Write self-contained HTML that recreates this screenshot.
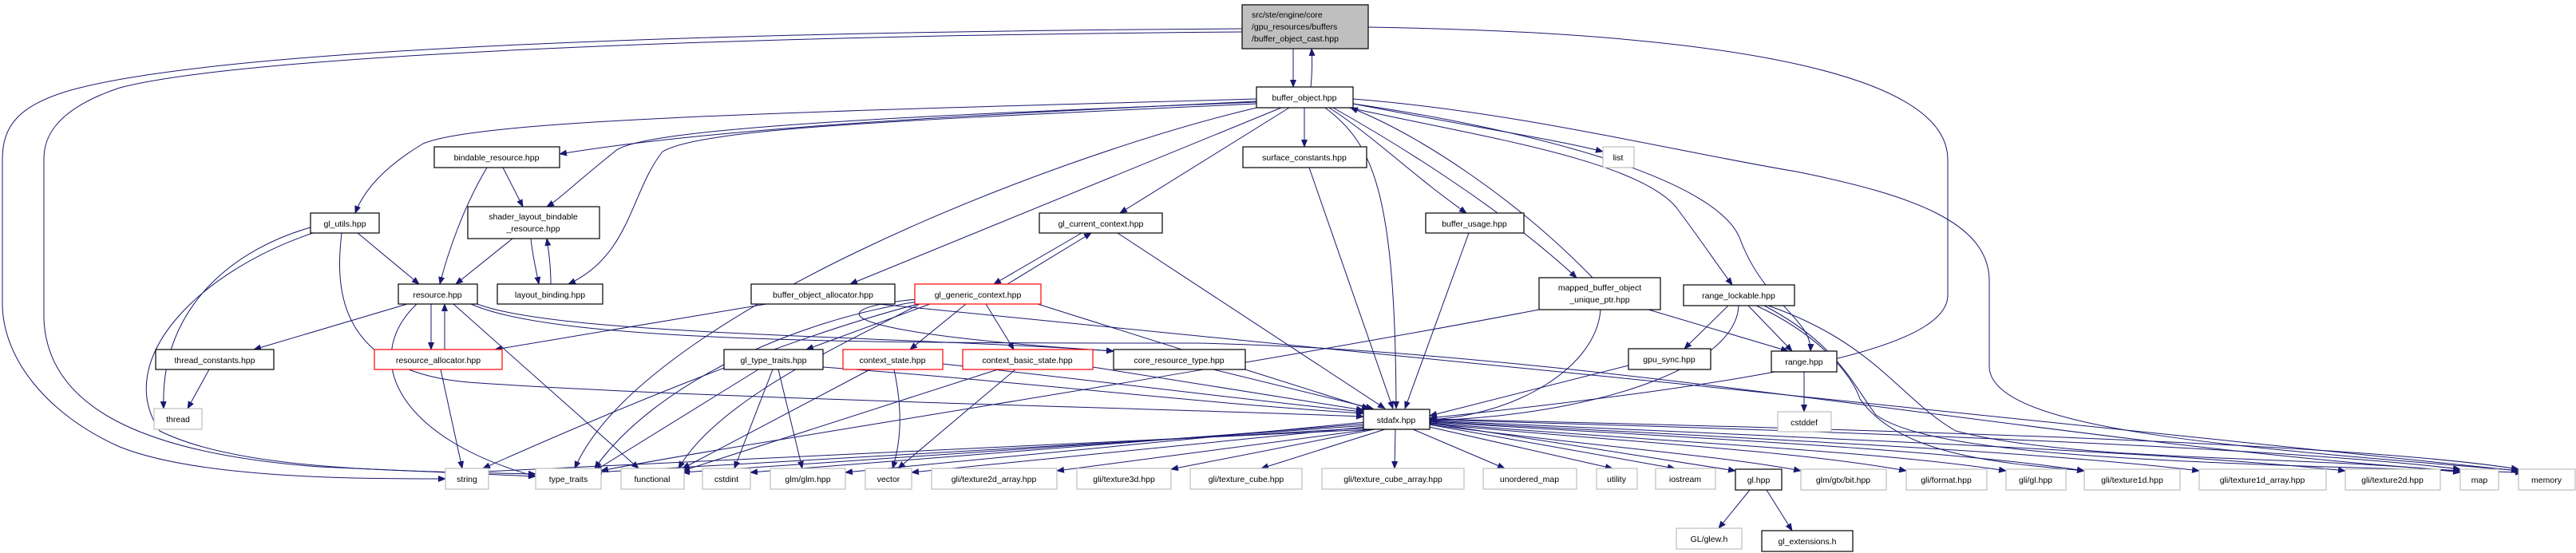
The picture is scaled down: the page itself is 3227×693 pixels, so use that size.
<!DOCTYPE html>
<html><head><meta charset="utf-8"><style>
html,body{margin:0;padding:0;background:#fff;}
svg{display:block;}
text{font-family:"Liberation Sans",Arial,sans-serif;font-size:10.5px;fill:#000;text-anchor:middle;}
.n{fill:#fff;stroke:#000;stroke-width:1.2;}
.g{fill:#fff;stroke:#bfbfbf;stroke-width:1.2;}
.r{fill:#fff;stroke:#ff0000;stroke-width:1.2;}
path.e{fill:none;stroke:#191970;stroke-width:1;marker-end:url(#a);}
</style></head><body>
<svg width="3227" height="693" viewBox="0 0 3227 693" xmlns="http://www.w3.org/2000/svg">
<defs><marker id="a" markerWidth="10" markerHeight="8" refX="9" refY="4" orient="auto" markerUnits="userSpaceOnUse"><path d="M0,0 L10,4 L0,8 z" fill="#191970"/></marker></defs>
<g>
<path class="e" d="M1620,61 L1620,109"/>
<path class="e" d="M1642,109 C1644,90 1644,75 1643,61"/>
<path class="e" d="M1556,36 C900,40 300,60 100,110 C20,130 3,160 3,200 L3,380 C3,450 60,520 150,560 C250,600 450,600 558,600"/>
<path class="e" d="M1556,40 C900,45 300,70 150,110 C60,140 55,180 55,200 L55,400 C60,520 200,570 400,585 C550,592 620,594 671,597"/>
<path class="e" d="M1714,34 C2100,40 2440,80 2440,200 L2440,370 C2440,440 2200,480 1791,524"/>
<path class="e" d="M1695,124 C1900,140 2100,190 2250,215 C2400,245 2490,280 2492,350 L2492,460 C2495,540 2800,560 3158,590"/>
<path class="e" d="M1695,130 C1900,160 2150,220 2180,300 C2210,380 2270,400 2268,440"/>
<path class="e" d="M1690,135 C1850,170 2050,200 2100,260 C2130,300 2150,330 2170,357"/>
<path class="e" d="M1695,130 C1850,160 1950,175 2008,190"/>
<path class="e" d="M1670,135 C1750,180 1880,260 1975,348"/>
<path class="e" d="M1995,348 C1900,250 1780,170 1692,135"/>
<path class="e" d="M1665,135 C1720,170 1770,220 1837,267"/>
<path class="e" d="M1660,135 C1720,180 1748,240 1749,512"/>
<path class="e" d="M1634,135 L1634,184"/>
<path class="e" d="M1615,135 L1403,267"/>
<path class="e" d="M1605,135 C1400,220 1200,300 1065,356"/>
<path class="e" d="M1574,135 C1300,200 800,400 720,587"/>
<path class="e" d="M1574,124 C1000,140 600,150 530,180 C480,210 455,240 445,267"/>
<path class="e" d="M1574,127 C1200,145 900,160 701,193"/>
<path class="e" d="M1574,128 C1150,145 800,160 770,190 C720,230 700,250 685,259"/>
<path class="e" d="M1574,130 C1150,150 880,160 830,190 C790,240 790,320 712,356"/>
<path class="e" d="M630,210 L655,259"/>
<path class="e" d="M610,210 C580,260 560,320 551,356"/>
<path class="e" d="M642,299 L571,356"/>
<path class="e" d="M665,299 C667,320 672,340 675,356"/>
<path class="e" d="M690,356 C690,335 688,318 685,299"/>
<path class="e" d="M448,292 L525,356"/>
<path class="e" d="M389,285 C300,310 200,380 205,512"/>
<path class="e" d="M392,292 C250,340 140,450 200,540 C300,590 500,590 671,594"/>
<path class="e" d="M428,292 C420,360 420,470 600,480 C900,500 1400,510 1708,522"/>
<path class="e" d="M510,381 L318,438"/>
<path class="e" d="M540,381 L540,438"/>
<path class="e" d="M557,438 L557,381"/>
<path class="e" d="M522,381 C450,450 500,550 671,597"/>
<path class="e" d="M568,381 L800,587"/>
<path class="e" d="M598,381 C700,420 1100,420 1395,440"/>
<path class="e" d="M590,381 C700,430 1100,430 1500,430 C2000,440 2600,560 3082,590"/>
<path class="e" d="M262,463 L235,512"/>
<path class="e" d="M552,463 L579,587"/>
<path class="e" d="M960,381 L620,438"/>
<path class="e" d="M1100,381 C1500,420 2900,560 3155,590"/>
<path class="e" d="M1355,292 L1245,356"/>
<path class="e" d="M1262,356 L1367,292"/>
<path class="e" d="M1400,292 L1735,512"/>
<path class="e" d="M1165,381 L1010,438"/>
<path class="e" d="M1210,381 L1140,438"/>
<path class="e" d="M1235,381 L1270,438"/>
<path class="e" d="M1300,381 L1715,512"/>
<path class="e" d="M1150,381 C1000,420 800,500 605,587"/>
<path class="e" d="M1150,378 C1000,400 820,480 745,587"/>
<path class="e" d="M1152,381 C1060,430 900,500 850,587"/>
<path class="e" d="M1148,375 C1000,390 1080,420 1395,440"/>
<path class="e" d="M950,463 L745,590"/>
<path class="e" d="M968,463 L920,587"/>
<path class="e" d="M975,463 L1005,587"/>
<path class="e" d="M1031,460 C1300,480 1500,505 1708,518"/>
<path class="e" d="M1120,463 C1130,510 1130,550 1118,587"/>
<path class="e" d="M1090,463 L855,587"/>
<path class="e" d="M1181,456 C1400,480 1550,500 1708,516"/>
<path class="e" d="M1272,463 L1125,587"/>
<path class="e" d="M1250,463 L855,590"/>
<path class="e" d="M1369,460 L1708,514"/>
<path class="e" d="M1520,463 L1720,512"/>
<path class="e" d="M1640,210 L1745,512"/>
<path class="e" d="M1840,292 L1760,512"/>
<path class="e" d="M2005,388 C2000,460 1900,520 1791,526"/>
<path class="e" d="M2065,388 L2240,440"/>
<path class="e" d="M1928,388 C1500,470 900,560 753,590"/>
<path class="e" d="M2165,383 L2110,437"/>
<path class="e" d="M2190,383 L2245,440"/>
<path class="e" d="M2178,383 C2175,460 2000,520 1791,527"/>
<path class="e" d="M2215,383 C2350,430 2380,500 2450,540 C2600,580 2900,570 3082,592"/>
<path class="e" d="M2210,383 C2300,430 2320,480 2350,520 C2420,570 2700,580 3160,592"/>
<path class="e" d="M2200,383 C2280,420 2320,470 2330,500 C2380,570 2500,580 2611,590"/>
<path class="e" d="M2040,458 L1791,521"/>
<path class="e" d="M2260,466 L2260,516"/>
<path class="e" d="M1720,538 L585,592"/>
<path class="e" d="M1718,536 L745,592"/>
<path class="e" d="M1715,533 L855,592"/>
<path class="e" d="M1712,531 L940,592"/>
<path class="e" d="M1710,529 L1059,592"/>
<path class="e" d="M1712,535 L1142,592"/>
<path class="e" d="M1718,538 L1324,590"/>
<path class="e" d="M1722,538 L1467,588"/>
<path class="e" d="M1735,538 L1580,587"/>
<path class="e" d="M1748,538 L1747,587"/>
<path class="e" d="M1770,538 L1885,587"/>
<path class="e" d="M1786,534 L2020,587"/>
<path class="e" d="M1790,532 L2098,587"/>
<path class="e" d="M1791,530 L2174,590"/>
<path class="e" d="M1791,532 C2000,560 2150,570 2256,590"/>
<path class="e" d="M1791,531 C2050,555 2250,565 2388,590"/>
<path class="e" d="M1791,530 C2100,555 2350,565 2513,590"/>
<path class="e" d="M1791,529 C2150,550 2450,565 2611,590"/>
<path class="e" d="M1791,528 C2200,550 2550,565 2755,590"/>
<path class="e" d="M1791,527 C2250,548 2700,565 2938,590"/>
<path class="e" d="M1791,526 C2300,540 2850,560 3082,588"/>
<path class="e" d="M1791,525 C2350,538 2950,555 3155,588"/>
<path class="e" d="M2192,614 L2153,662"/>
<path class="e" d="M2213,614 L2245,665"/>
</g>
<g>
<rect x="1556" y="6" width="158" height="55" fill="#bfbfbf" stroke="#000" stroke-width="1.2"/>
<text x="1568" y="22" style="text-anchor:start">src/ste/engine/core</text>
<text x="1568" y="37" style="text-anchor:start">/gpu_resources/buffers</text>
<text x="1568" y="52" style="text-anchor:start">/buffer_object_cast.hpp</text>
<rect class="n" x="1574" y="109" width="121" height="26"/><text x="1634" y="126">buffer_object.hpp</text>
<rect class="n" x="1557" y="184" width="155" height="26"/><text x="1634" y="201">surface_constants.hpp</text>
<rect class="g" x="2008" y="184" width="39" height="26"/><text x="2027" y="201">list</text>
<rect class="n" x="1302" y="267" width="154" height="25"/><text x="1379" y="284">gl_current_context.hpp</text>
<rect class="n" x="1786" y="267" width="123" height="25"/><text x="1847" y="284">buffer_usage.hpp</text>
<rect class="n" x="1928" y="348" width="152" height="40"/><text x="2004" y="364">mapped_buffer_object</text><text x="2004" y="379">_unique_ptr.hpp</text>
<rect class="n" x="2109" y="357" width="139" height="26"/><text x="2178" y="374">range_lockable.hpp</text>
<rect class="n" x="2219" y="440" width="82" height="26"/><text x="2260" y="457">range.hpp</text>
<rect class="g" x="2227" y="516" width="67" height="25"/><text x="2260" y="533">cstddef</text>
<rect class="n" x="2040" y="437" width="103" height="26"/><text x="2091" y="454">gpu_sync.hpp</text>
<rect class="n" x="1708" y="513" width="83" height="25"/><text x="1749" y="530">stdafx.hpp</text>
<rect class="n" x="544" y="184" width="157" height="26"/><text x="622" y="201">bindable_resource.hpp</text>
<rect class="n" x="389" y="267" width="86" height="25"/><text x="432" y="284">gl_utils.hpp</text>
<rect class="n" x="586" y="259" width="165" height="40"/><text x="668" y="275">shader_layout_bindable</text><text x="668" y="290">_resource.hpp</text>
<rect class="n" x="499" y="356" width="99" height="25"/><text x="548" y="373">resource.hpp</text>
<rect class="n" x="623" y="356" width="132" height="25"/><text x="689" y="373">layout_binding.hpp</text>
<rect class="n" x="941" y="356" width="180" height="25"/><text x="1031" y="373">buffer_object_allocator.hpp</text>
<rect class="r" x="1146" y="356" width="158" height="25"/><text x="1225" y="373">gl_generic_context.hpp</text>
<rect class="n" x="195" y="438" width="148" height="25"/><text x="269" y="455">thread_constants.hpp</text>
<rect class="r" x="469" y="438" width="160" height="25"/><text x="549" y="455">resource_allocator.hpp</text>
<rect class="n" x="907" y="438" width="124" height="25"/><text x="969" y="455">gl_type_traits.hpp</text>
<rect class="r" x="1056" y="438" width="125" height="25"/><text x="1118" y="455">context_state.hpp</text>
<rect class="r" x="1206" y="438" width="163" height="25"/><text x="1287" y="455">context_basic_state.hpp</text>
<rect class="n" x="1395" y="438" width="165" height="25"/><text x="1477" y="455">core_resource_type.hpp</text>
<rect class="g" x="193" y="512" width="60" height="26"/><text x="223" y="529">thread</text>
<rect class="g" x="558" y="587" width="54" height="26"/><text x="585" y="604">string</text>
<rect class="g" x="671" y="587" width="82" height="26"/><text x="712" y="604">type_traits</text>
<rect class="g" x="778" y="587" width="79" height="26"/><text x="817" y="604">functional</text>
<rect class="g" x="880" y="587" width="60" height="26"/><text x="910" y="604">cstdint</text>
<rect class="g" x="965" y="587" width="94" height="26"/><text x="1012" y="604">glm/glm.hpp</text>
<rect class="g" x="1084" y="587" width="58" height="26"/><text x="1113" y="604">vector</text>
<rect class="g" x="1167" y="587" width="157" height="26"/><text x="1245" y="604">gli/texture2d_array.hpp</text>
<rect class="g" x="1349" y="587" width="118" height="26"/><text x="1408" y="604">gli/texture3d.hpp</text>
<rect class="g" x="1491" y="587" width="140" height="26"/><text x="1561" y="604">gli/texture_cube.hpp</text>
<rect class="g" x="1656" y="587" width="178" height="26"/><text x="1745" y="604">gli/texture_cube_array.hpp</text>
<rect class="g" x="1858" y="587" width="117" height="26"/><text x="1916" y="604">unordered_map</text>
<rect class="g" x="2000" y="587" width="51" height="26"/><text x="2025" y="604">utility</text>
<rect class="g" x="2074" y="587" width="75" height="26"/><text x="2111" y="604">iostream</text>
<rect class="n" x="2174" y="588" width="58" height="26"/><text x="2203" y="605">gl.hpp</text>
<rect class="g" x="2256" y="588" width="107" height="26"/><text x="2309" y="605">glm/gtx/bit.hpp</text>
<rect class="g" x="2388" y="588" width="101" height="26"/><text x="2438" y="605">gli/format.hpp</text>
<rect class="g" x="2513" y="588" width="75" height="26"/><text x="2550" y="605">gli/gl.hpp</text>
<rect class="g" x="2611" y="588" width="120" height="26"/><text x="2671" y="605">gli/texture1d.hpp</text>
<rect class="g" x="2755" y="588" width="159" height="26"/><text x="2834" y="605">gli/texture1d_array.hpp</text>
<rect class="g" x="2938" y="588" width="119" height="26"/><text x="2997" y="605">gli/texture2d.hpp</text>
<rect class="g" x="3082" y="588" width="48" height="26"/><text x="3106" y="605">map</text>
<rect class="g" x="3155" y="588" width="71" height="26"/><text x="3190" y="605">memory</text>
<rect class="g" x="2100" y="662" width="82" height="26"/><text x="2141" y="679">GL/glew.h</text>
<rect class="n" x="2207" y="665" width="114" height="26"/><text x="2264" y="682">gl_extensions.h</text>
</g>
</svg>
</body></html>
